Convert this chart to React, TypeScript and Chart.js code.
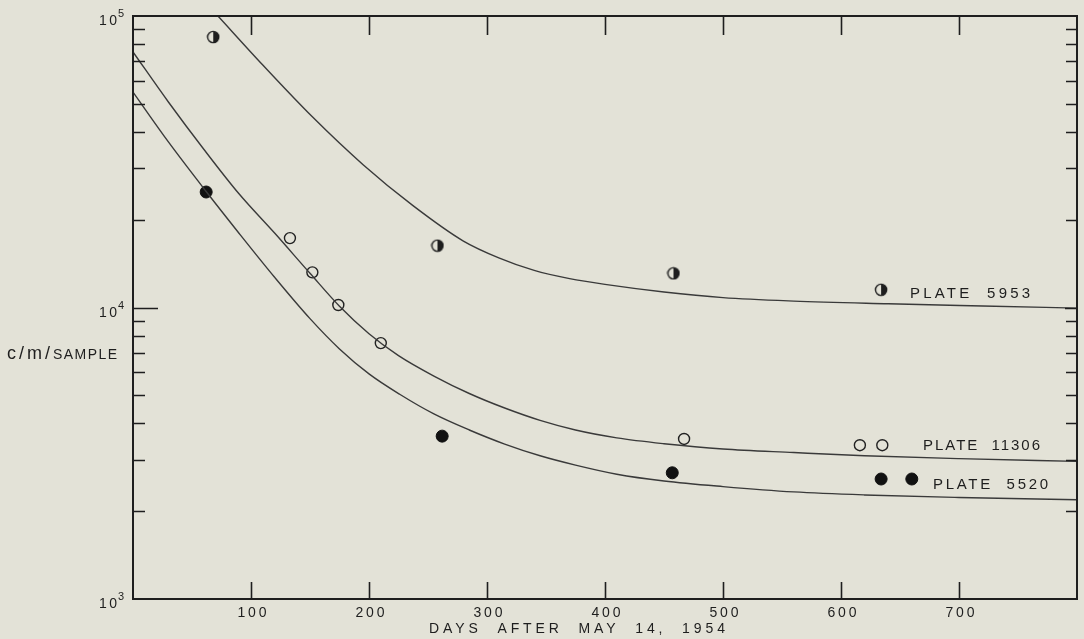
import React, { useEffect, useRef } from 'react';
import { Chart, registerables } from 'chart.js';

Chart.register(...registerables);

// ---- axis ticks ----
const xTickValues = [100, 200, 300, 400, 500, 600, 700];
const yDecades = [1000, 10000, 100000];
const yDecadeExponents = ['3', '4', '5'];
const yMinorMultipliers = [2, 3, 4, 5, 6, 7, 8, 9];

// ---- measured points ----
const plate5953Days = [68, 258, 458, 634];
const plate5953Counts = [84700, 16300, 13100, 11500];

const plate11306Days = [133, 152, 174, 210, 467, 616, 635];
const plate11306Counts = [17300, 13200, 10200, 7550, 3540, 3370, 3370];

const plate5520Days = [62, 262, 457, 634, 660];
const plate5520Counts = [24900, 3620, 2710, 2580, 2580];

// ---- fitted curves ----
const curve5953Days = [72, 110, 152, 195, 237, 280, 310, 340, 370, 400, 450, 500, 560, 640, 720, 800];
const curve5953Counts = [100000, 67900, 45100, 30900, 22400, 16900, 14800, 13400, 12560, 12000, 11300, 10810, 10520, 10300, 10120, 9950];

const curve11306Days = [0, 30, 60, 90, 120, 150, 175, 200, 225, 255, 285, 315, 345, 375, 410, 450, 500, 560, 620, 700, 800];
const curve11306Counts = [75300, 50700, 34900, 24500, 18000, 13100, 10100, 8130, 6840, 5820, 5070, 4520, 4100, 3800, 3570, 3410, 3270, 3180, 3100, 3030, 2965];

const curve5520Days = [0, 30, 62, 90, 120, 150, 175, 200, 226, 255, 285, 315, 345, 375, 410, 450, 500, 560, 620, 700, 800];
const curve5520Counts = [54800, 36980, 25000, 17950, 12700, 9160, 7210, 5920, 5040, 4315, 3800, 3400, 3100, 2880, 2680, 2540, 2430, 2330, 2275, 2230, 2190];

// ---- text labels ----
const plateNames = ['PLATE  5953', 'PLATE  11306', 'PLATE  5520'];
const plateLabelDays = [658.5, 669.5, 678];
const plateLabelCounts = [10780, 3245, 2382];
const xTitle = 'DAYS  AFTER  MAY  14,  1954';
const yTitleLower = 'c/m/';
const yTitleUpper = 'SAMPLE';

const BG = '#e3e2d7';
const INK = '#1e1e1e';
const FONT = '"Liberation Sans", Arial, sans-serif';

function toXY(xs: number[], ys: number[]) {
  return xs.map((x, i) => ({ x, y: ys[i] }));
}

function makeHalfMarker(): HTMLCanvasElement {
  const c = document.createElement('canvas');
  c.width = 14;
  c.height = 14;
  const g = c.getContext('2d')!;
  const r = 5.6;
  g.beginPath();
  g.arc(7, 7, r, 0, Math.PI * 2);
  g.fillStyle = BG;
  g.fill();
  g.beginPath();
  g.moveTo(7, 7 - r);
  g.arc(7, 7, r, -Math.PI / 2, Math.PI / 2);
  g.closePath();
  g.fillStyle = INK;
  g.fill();
  g.beginPath();
  g.arc(7, 7, r, 0, Math.PI * 2);
  g.lineWidth = 1.4;
  g.strokeStyle = INK;
  g.stroke();
  return c;
}

function drawFitted(ctx: any, text: string, x: number, baseline: number, width: number, font: string, align: string) {
  ctx.font = font;
  ctx.letterSpacing = '0px';
  const w = ctx.measureText(text).width;
  const n = text.length;
  const sp = n > 1 ? (width - w) / (n - 1) : 0;
  let startX = x;
  if (align === 'center') startX = x - width / 2;
  else if (align === 'right') startX = x - width;
  ctx.textAlign = 'left';
  ctx.textBaseline = 'alphabetic';
  ctx.letterSpacing = sp.toFixed(2) + 'px';
  ctx.fillText(text, startX, baseline);
  ctx.letterSpacing = '0px';
}

const decorPlugin = {
  id: 'decor',
  afterDatasetsDraw(chart: any) {
    const ctx = chart.ctx;
    const xs = chart.scales.x;
    const ys = chart.scales.y;
    const a = chart.chartArea;
    ctx.save();
    ctx.strokeStyle = INK;
    ctx.fillStyle = INK;

    // frame
    ctx.lineWidth = 2;
    ctx.strokeRect(a.left, a.top, a.right - a.left, a.bottom - a.top);

    // x ticks (inward, top and bottom)
    ctx.lineWidth = 1.6;
    xTickValues.forEach((v) => {
      const px = Math.round(xs.getPixelForValue(v)) + 0.5;
      ctx.beginPath();
      ctx.moveTo(px, a.bottom);
      ctx.lineTo(px, a.bottom - 17);
      ctx.moveTo(px, a.top);
      ctx.lineTo(px, a.top + 19);
      ctx.stroke();
    });

    // y ticks (inward, left and right)
    ctx.lineWidth = 1.3;
    yDecades.forEach((d, di) => {
      if (di === yDecades.length - 1) return;
      yMinorMultipliers.forEach((m) => {
        const py = Math.round(ys.getPixelForValue(d * m)) + 0.5;
        ctx.beginPath();
        ctx.moveTo(a.left, py);
        ctx.lineTo(a.left + 12, py);
        ctx.moveTo(a.right, py);
        ctx.lineTo(a.right - 11, py);
        ctx.stroke();
      });
    });
    const p4 = Math.round(ys.getPixelForValue(10000)) + 0.5;
    ctx.beginPath();
    ctx.moveTo(a.left, p4);
    ctx.lineTo(a.left + 25, p4);
    ctx.moveTo(a.right, p4);
    ctx.lineTo(a.right - 12, p4);
    ctx.stroke();

    // x tick labels
    xTickValues.forEach((v) => {
      const px = xs.getPixelForValue(v);
      drawFitted(ctx, String(v), px + 1, a.bottom + 18, 29, `14px ${FONT}`, 'center');
    });

    // y decade labels 10^n
    yDecades.forEach((d, i) => {
      const py = ys.getPixelForValue(d);
      drawFitted(ctx, '10', a.left - 16, py + 9, 18, `14px ${FONT}`, 'right');
      ctx.font = `11px ${FONT}`;
      ctx.textAlign = 'left';
      ctx.fillText(yDecadeExponents[i], a.left - 15, py + 1);
    });

    // axis titles
    drawFitted(ctx, xTitle, (429 + 725) / 2, a.bottom + 34, 296, `14px ${FONT}`, 'center');
    const yMid = (a.top + a.bottom) / 2;
    drawFitted(ctx, yTitleLower, 7, yMid + 51, 43, `18px ${FONT}`, 'left');
    drawFitted(ctx, yTitleUpper, 53, yMid + 51, 64, `14px ${FONT}`, 'left');

    // plate labels
    const plateWidths = [120, 117, 115];
    plateNames.forEach((t, i) => {
      const px = xs.getPixelForValue(plateLabelDays[i]);
      const py = ys.getPixelForValue(plateLabelCounts[i]);
      drawFitted(ctx, t, px, py, plateWidths[i], `15px ${FONT}`, 'left');
    });

    ctx.restore();
  },
};

export default function App() {
  const ref = useRef<HTMLCanvasElement | null>(null);

  useEffect(() => {
    if (!ref.current) return;
    document.body.style.margin = '0';
    document.body.style.background = BG;
    const half = makeHalfMarker();
    const curveStyle = {
      showLine: true,
      borderColor: '#3a3a3a',
      borderWidth: 1.4,
      pointRadius: 0,
      pointHoverRadius: 0,
      fill: false,
      tension: 0.4,
      cubicInterpolationMode: 'monotone' as const,
    };
    const chart = new Chart(ref.current, {
      type: 'scatter',
      data: {
        datasets: [
          { label: 'curve 5953', data: toXY(curve5953Days, curve5953Counts), ...curveStyle },
          { label: 'curve 11306', data: toXY(curve11306Days, curve11306Counts), ...curveStyle },
          { label: 'curve 5520', data: toXY(curve5520Days, curve5520Counts), ...curveStyle },
          {
            label: 'Plate 5953',
            data: toXY(plate5953Days, plate5953Counts),
            pointStyle: half as any,
            pointRadius: 6,
            showLine: false,
          },
          {
            label: 'Plate 11306',
            data: toXY(plate11306Days, plate11306Counts),
            pointStyle: 'circle',
            pointRadius: 5.5,
            pointBackgroundColor: BG,
            pointBorderColor: '#222',
            pointBorderWidth: 1.4,
            showLine: false,
          },
          {
            label: 'Plate 5520',
            data: toXY(plate5520Days, plate5520Counts),
            pointStyle: 'circle',
            pointRadius: 6,
            pointBackgroundColor: '#111',
            pointBorderColor: '#111',
            pointBorderWidth: 1,
            showLine: false,
          },
        ],
      },
      options: {
        animation: false,
        responsive: true,
        maintainAspectRatio: false,
        layout: { padding: { left: 133, right: 7, top: 16, bottom: 40 } },
        plugins: {
          legend: { display: false },
          tooltip: { enabled: false },
        },
        events: [],
        scales: {
          x: { type: 'linear', min: 0, max: 800, display: false },
          y: { type: 'logarithmic', min: 1000, max: 100000, display: false },
        },
      },
      plugins: [decorPlugin],
    });
    return () => chart.destroy();
  }, []);

  return (
    <div style={{ position: 'fixed', left: 0, top: 0, width: 1084, height: 639, background: BG }}>
      <canvas ref={ref} />
    </div>
  );
}
